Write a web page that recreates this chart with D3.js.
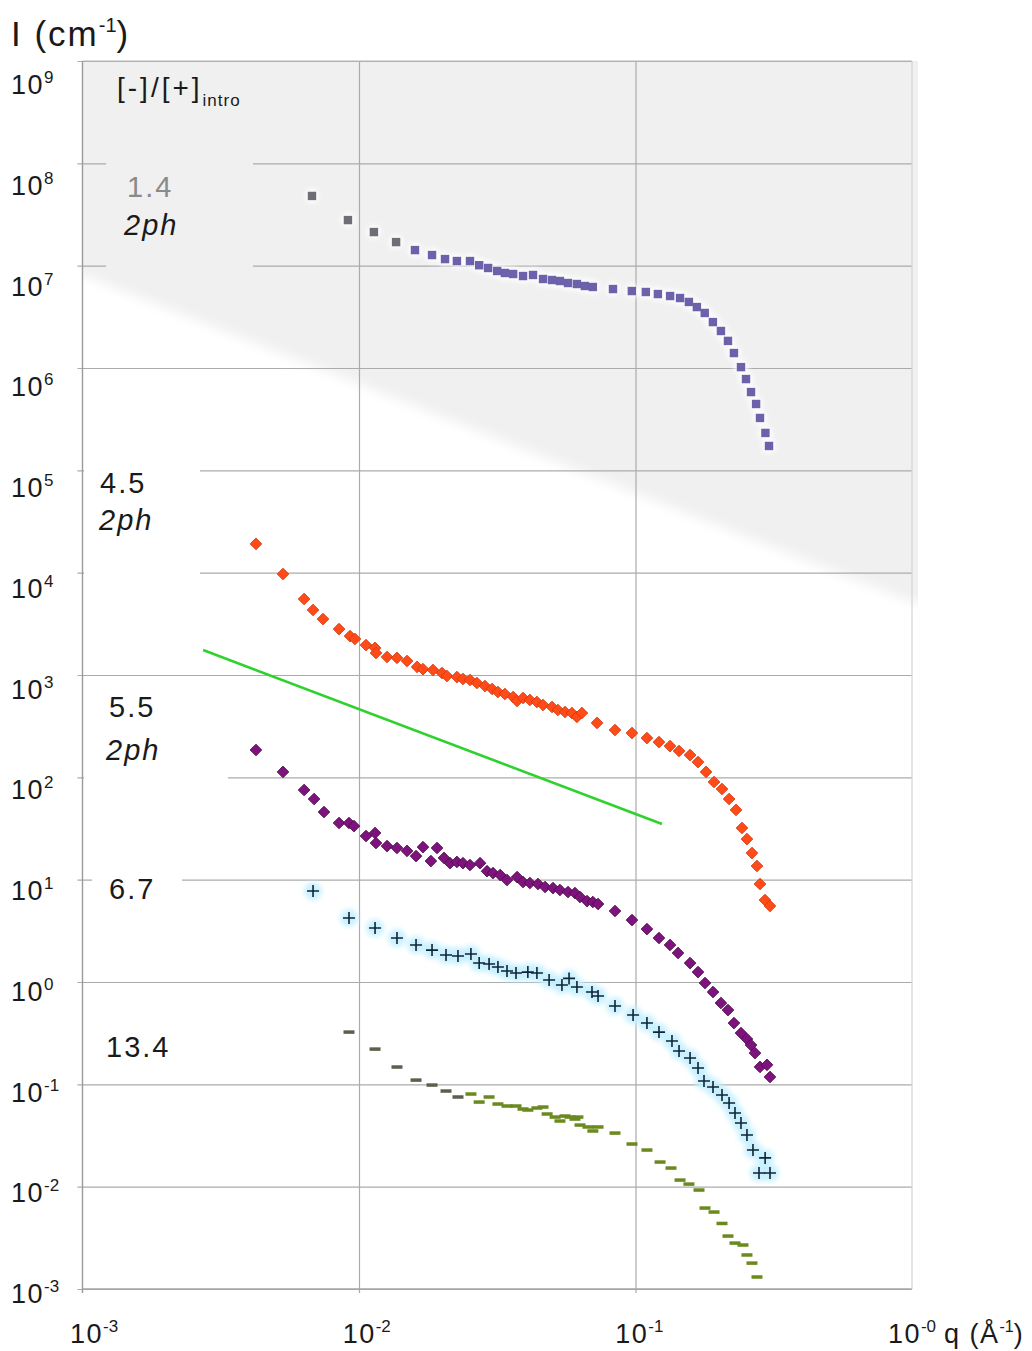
<!DOCTYPE html>
<html>
<head>
<meta charset="utf-8">
<script src="https://cdn.jsdelivr.net/npm/d3@7"></script>
<style>
  body { margin: 0; background: #fff; }
  svg text { font-family: "Liberation Sans", Arial, sans-serif; fill: #1a1a1a; }
</style>
</head>
<body>
<svg id="chart" width="1032" height="1351"></svg>
<script>
// SANS intensity curves I(q) for several [-]/[+]intro ratios (log-log).

// ratio 1.4 (2ph) – squares
const q14 = [0.00676,0.00912,0.01132,0.01362,0.01594,0.01837,0.02047,0.0226,0.0252,0.0272,0.0293,0.0316,0.0337,0.0361,0.0392,0.0426,0.0463,0.0499,0.0533,0.0570,0.0614,0.0656,0.0701,0.0829,0.0970,0.109,0.1205,0.1334,0.1449,0.156,0.1667,0.178,0.1905,0.2037,0.216,0.227,0.2407,0.251,0.2617,0.273,0.282,0.295,0.304];
const I14 = [4.80e7,2.79e7,2.13e7,1.70e7,1.42e7,1.27e7,1.16e7,1.11e7,1.11e7,1.01e7,9.49e6,8.87e6,8.48e6,8.29e6,7.92e6,8.11e6,7.41e6,7.24e6,7.08e6,6.77e6,6.62e6,6.33e6,6.19e6,5.91e6,5.65e6,5.53e6,5.28e6,5.05e6,4.83e6,4.42e6,3.94e6,3.45e6,2.81e6,2.30e6,1.84e6,1.40e6,1.02e6,7.80e5,5.82e5,4.45e5,3.25e5,2.32e5,1.73e5];

// ratio 4.5 (2ph) – orange diamonds
const q45 = [0.00424,0.00531,0.00633,0.00682,0.00741,0.00847,0.00928,0.00967,0.0106,0.01143,0.01152,0.01263,0.01372,0.01492,0.01622,0.01704,0.01852,0.01996,0.0208,0.0226,0.02377,0.0252,0.0267,0.02855,0.0303,0.0318,0.0337,0.0361,0.0373,0.0392,0.0415,0.0440,0.0463,0.0499,0.0524,0.0556,0.0589,0.0614,0.0640,0.0726,0.0843,0.0971,0.110,0.1216,0.1333,0.1437,0.1575,0.1683,0.180,0.1923,0.2055,0.218,0.231,0.2427,0.253,0.2638,0.275,0.282,0.294,0.3065];
const I45 = [1.91e4,9.70e3,5.53e3,4.32e3,3.52e3,2.81e3,2.40e3,2.25e3,1.96e3,1.84e3,1.64e3,1.50e3,1.47e3,1.37e3,1.20e3,1.14e3,1.12e3,1045,977,955,914,893,835,780,730,682,652,610,557,596,570,545,509,487,455,435,425,389,425,340,290,271,242,221,202,181,165,141,113,90.0,76.9,61.4,48.0,32.0,24.9,18.2,13.6,9.07,6.32,5.53];

// ratio 5.5 (2ph) – purple diamonds
const q55 = [0.00424,0.00531,0.00633,0.00688,0.00747,0.00847,0.00920,0.00959,0.0106,0.01143,0.01152,0.01263,0.01372,0.01492,0.01608,0.01704,0.0182,0.01915,0.0203,0.02134,0.0226,0.02377,0.0252,0.0274,0.02904,0.03053,0.0324,0.0343,0.0373,0.0392,0.0415,0.0444,0.0471,0.0503,0.0533,0.0570,0.0604,0.0630,0.0668,0.0701,0.0732,0.0843,0.0971,0.110,0.1216,0.1333,0.1425,0.1575,0.1683,0.1784,0.1907,0.2037,0.216,0.227,0.2407,0.253,0.2617,0.2705,0.282,0.299,0.3065];
const I55 = [185,113,75.2,61.4,45.8,35.8,35.8,33.4,26.7,28.6,22.8,21.3,20.4,19.1,17.0,20.8,15.2,20.4,16.3,14.5,14.9,14.5,13.9,14.5,12.1,11.6,11.1,9.92,10.6,9.48,9.27,9.07,8.48,8.28,7.92,7.57,7.40,6.77,6.18,6.05,5.78,4.94,4.03,3.29,2.69,2.30,1.92,1.53,1.25,0.977,0.798,0.623,0.532,0.397,0.317,0.277,0.242,0.202,0.148,0.155,0.118];

// ratio 6.7 – plus signs
const q67 = [0.00682,0.00920,0.01143,0.01372,0.01608,0.01837,0.02064,0.0228,0.0254,0.0272,0.02954,0.0318,0.0343,0.03697,0.0408,0.0440,0.0487,0.0542,0.0575,0.0614,0.0696,0.0732,0.0843,0.098,0.110,0.1216,0.1355,0.1437,0.1575,0.1683,0.1769,0.1907,0.2055,0.218,0.229,0.2407,0.253,0.266,0.2943,0.2797,0.3065];
const I67 = [7.74,4.22,3.37,2.69,2.30,2.05,1.835,1.795,1.877,1.532,1.498,1.40,1.28,1.224,1.25,1.224,1.045,0.934,1.084,0.893,0.798,0.729,0.582,0.476,0.397,0.324,0.265,0.2115,0.1807,0.1443,0.1077,0.0942,0.0786,0.0657,0.0524,0.0419,0.0320,0.0228,0.0191,0.0136,0.0136];

// ratio 13.4 – dashes
const q134 = [0.00920,0.01143,0.01372,0.01608,0.01837,0.02064,0.0228,0.0254,0.0272,0.02954,0.0318,0.0343,0.03697,0.0392,0.0408,0.0440,0.0463,0.0479,0.0512,0.0533,0.0556,0.0580,0.0604,0.0619,0.0630,0.0673,0.0701,0.0732,0.0843,0.0971,0.110,0.1227,0.1344,0.1449,0.156,0.1697,0.1784,0.1923,0.2055,0.216,0.229,0.2447,0.253,0.2638,0.275];
const I134 = [0.324,0.221,0.1476,0.110,0.0984,0.086,0.0752,0.0804,0.0671,0.0752,0.0642,0.0614,0.0614,0.0574,0.0561,0.0587,0.060,0.0513,0.0479,0.0438,0.049,0.0479,0.0458,0.0479,0.040,0.0383,0.035,0.0383,0.0334,0.0261,0.0228,0.0174,0.0152,0.0116,0.0106,0.00927,0.00618,0.00565,0.00437,0.00329,0.00281,0.00269,0.00215,0.00179,0.00131];

// q^-1 guide line (end points)
const qFit = [0.00273, 0.1247];
const IFit = [1754, 35.0];

// axis ticks
const xTickVals = [1e-3, 1e-2, 1e-1, 1];
const xTickExp = ["-3", "-2", "-1", "-0"];
const yTickVals = [1e9,1e8,1e7,1e6,1e5,1e4,1e3,1e2,1e1,1e0,1e-1,1e-2,1e-3];
const yTickExp = ["9","8","7","6","5","4","3","2","1","0","-1","-2","-3"];

const svg = d3.select("#chart");
const x = d3.scaleLog().domain([1e-3, 1]).range([82.5, 912]);
const y = d3.scaleLog().domain([1e-3, 1e9]).range([1289, 61]);
const [x0, x1] = x.range();
const [yb, yt] = y.range();

const defs = svg.append("defs");
defs.append("filter").attr("id", "soft").attr("x", "-10%").attr("y", "-10%").attr("width", "120%").attr("height", "120%")
  .append("feGaussianBlur").attr("stdDeviation", 6);
defs.append("filter").attr("id", "halo").attr("x", "-50%").attr("y", "-50%").attr("width", "200%").attr("height", "200%")
  .append("feGaussianBlur").attr("stdDeviation", 2.5);
defs.append("clipPath").attr("id", "plotClip")
  .append("rect").attr("x", x0).attr("y", yt).attr("width", x1 - x0 + 6).attr("height", yb - yt);

// shaded upper band of the plot area
svg.append("g").attr("clip-path", "url(#plotClip)")
  .append("path")
  .attr("d", `M${x0 - 20},${yt - 20}H${x1 + 30}V${602}L${x1},${602}L${x0},${275}L${x0 - 20},${268}Z`)
  .attr("fill", "#f0f0f0")
  .attr("filter", "url(#soft)");

// horizontal grid
const gy = svg.append("g").attr("transform", `translate(${x0},0)`)
  .call(d3.axisLeft(y).tickValues(yTickVals).tickSize(-(x1 - x0)).tickFormat(""));
gy.select(".domain").remove();
gy.selectAll(".tick line").attr("x1", -5).attr("stroke", "#ababab").attr("stroke-width", 1.2);

// vertical grid
const gx = svg.append("g").attr("transform", `translate(0,${yb})`)
  .call(d3.axisBottom(x).tickValues(xTickVals.slice(1, 3)).tickSize(-(yb - yt)).tickFormat(""));
gx.select(".domain").remove();
gx.selectAll(".tick line").attr("y1", 4).attr("stroke", "#ababab").attr("stroke-width", 1.2);

// frame
svg.append("line").attr("x1", x0).attr("x2", x0).attr("y1", yt).attr("y2", yb + 4).attr("stroke", "#9a9a9a").attr("stroke-width", 1.4);
svg.append("line").attr("x1", x0).attr("x2", x1).attr("y1", yb).attr("y2", yb).attr("stroke", "#a4a4a4").attr("stroke-width", 1.3);
svg.append("line").attr("x1", x0).attr("x2", x1).attr("y1", yt).attr("y2", yt).attr("stroke", "#b8b8b8").attr("stroke-width", 1.2);
svg.append("line").attr("x1", x1).attr("x2", x1).attr("y1", yt).attr("y2", yb).attr("stroke", "#d4d4d4").attr("stroke-width", 1.2);

// boxes behind the in-plot labels
const boxes = [
  { x: 106, y: 140, w: 147, h: 130, fill: "#f0f0f0" },
  { x: 84,  y: 455, w: 116, h: 125, fill: "#ffffff" },
  { x: 84,  y: 684, w: 144, h: 104, fill: "#ffffff" },
  { x: 92,  y: 862, w: 90,  h: 40,  fill: "#ffffff" }
];
svg.append("g").selectAll("rect").data(boxes).join("rect")
  .attr("x", d => d.x).attr("y", d => d.y).attr("width", d => d.w).attr("height", d => d.h)
  .attr("fill", d => d.fill);

// guide line
svg.append("path")
  .datum(d3.zip(qFit, IFit))
  .attr("d", d3.line().x(d => x(d[0])).y(d => y(d[1])))
  .attr("fill", "none").attr("stroke", "#2fd12f").attr("stroke-width", 2.6);

// 13.4 – dashes
svg.append("g").selectAll("rect").data(d3.zip(q134, I134)).join("rect")
  .attr("x", d => x(d[0]) - 5.5).attr("y", d => y(d[1]) - 1.75)
  .attr("width", 11).attr("height", 3.5)
  .attr("fill", (d, i) => i < 7 ? "#5e5e4e" : "#6a8a1e");

// 6.7 – plus signs with pale halo
const p67 = d3.zip(q67, I67);
svg.append("g").attr("filter", "url(#halo)").selectAll("circle").data(p67).join("circle")
  .attr("cx", d => x(d[0])).attr("cy", d => y(d[1])).attr("r", 9)
  .attr("fill", "#c4f0ff").attr("opacity", 0.9);
svg.append("g").selectAll("path").data(p67).join("path")
  .attr("transform", d => `translate(${x(d[0])},${y(d[1])})`)
  .attr("d", "M-6,0H6M0,-6V6")
  .attr("stroke", "#102436").attr("stroke-width", 1.6).attr("fill", "none");

// diamond marker
const diamond = d3.symbol(d3.symbolSquare, 68);

// 5.5 – purple diamonds
svg.append("g").selectAll("path").data(d3.zip(q55, I55)).join("path")
  .attr("transform", d => `translate(${x(d[0])},${y(d[1])}) rotate(45)`)
  .attr("d", diamond)
  .attr("fill", "#7e137e").attr("stroke", "#4a0c48").attr("stroke-width", 0.8);

// 4.5 – orange diamonds
svg.append("g").selectAll("path").data(d3.zip(q45, I45)).join("path")
  .attr("transform", d => `translate(${x(d[0])},${y(d[1])}) rotate(45)`)
  .attr("d", diamond)
  .attr("fill", "#ff4b18").attr("stroke", "#d2380e").attr("stroke-width", 0.8);

// 1.4 – squares with a light halo
const p14 = d3.zip(q14, I14);
svg.append("g").attr("filter", "url(#halo)").selectAll("circle").data(p14).join("circle")
  .attr("cx", d => x(d[0])).attr("cy", d => y(d[1])).attr("r", 7.5)
  .attr("fill", "#ffffff").attr("opacity", 0.8);
svg.append("g").selectAll("rect").data(p14).join("rect")
  .attr("x", d => x(d[0]) - 4.2).attr("y", d => y(d[1]) - 4.2)
  .attr("width", 8.4).attr("height", 8.4)
  .attr("fill", (d, i) => i < 4 ? "#6e6e74" : "#6b62ab");

// tick labels: 10 with superscript exponent
const yLab = v => 94 + (y(v) - yt) * 0.9846;
const yt_g = svg.append("g");
yTickVals.forEach((v, i) => {
  const t = yt_g.append("text").attr("x", 11).attr("y", yLab(v))
    .attr("font-size", 27).attr("letter-spacing", 1.5);
  t.append("tspan").text("10");
  t.append("tspan").attr("dy", -11).attr("font-size", 17).attr("letter-spacing", 0).text(yTickExp[i]);
});
const xLab = v => 70 + (x(v) - x0) * 0.986;
xTickVals.forEach((v, i) => {
  const t = svg.append("text").attr("x", xLab(v)).attr("y", 1343)
    .attr("font-size", 27).attr("letter-spacing", 1.5);
  t.append("tspan").text("10");
  t.append("tspan").attr("dy", -11).attr("font-size", 17).attr("letter-spacing", 0).text(xTickExp[i]);
});

// axis titles
const yTitle = svg.append("text").attr("x", 11).attr("y", 46).attr("font-size", 35).attr("letter-spacing", 2);
yTitle.append("tspan").text("I (cm");
yTitle.append("tspan").attr("dy", -14).attr("font-size", 20).attr("letter-spacing", 0).text("-1");
yTitle.append("tspan").attr("dy", 14).text(")");

const xTitle = svg.append("text").attr("x", 944).attr("y", 1343).attr("font-size", 27).attr("letter-spacing", 1.5);
xTitle.append("tspan").text("q (Å");
xTitle.append("tspan").attr("dy", -11).attr("font-size", 16).attr("letter-spacing", 0).text("-1");
xTitle.append("tspan").attr("dy", 11).text(")");

// series labels
const head = svg.append("text").attr("x", 117).attr("y", 97).attr("font-size", 28).attr("letter-spacing", 3);
head.append("tspan").text("[-]/[+]");
head.append("tspan").attr("dy", 9).attr("font-size", 17).attr("letter-spacing", 1).text("intro");

const seriesLabels = [
  { t: "1.4",  x: 127, y: 197, italic: false, fill: "#8a8a8a" },
  { t: "2ph",  x: 124, y: 235, italic: true,  fill: "#1a1a1a" },
  { t: "4.5",  x: 100, y: 493, italic: false, fill: "#1a1a1a" },
  { t: "2ph",  x: 99,  y: 530, italic: true,  fill: "#1a1a1a" },
  { t: "5.5",  x: 109, y: 717, italic: false, fill: "#1a1a1a" },
  { t: "2ph",  x: 106, y: 760, italic: true,  fill: "#1a1a1a" },
  { t: "6.7",  x: 109, y: 899, italic: false, fill: "#1a1a1a" },
  { t: "13.4", x: 106, y: 1057, italic: false, fill: "#1a1a1a" }
];
svg.append("g").selectAll("text").data(seriesLabels).join("text")
  .attr("x", d => d.x).attr("y", d => d.y)
  .attr("font-size", 29).attr("letter-spacing", 2)
  .attr("font-style", d => d.italic ? "italic" : "normal")
  .style("fill", d => d.fill)
  .text(d => d.t);
</script>
</body>
</html>
